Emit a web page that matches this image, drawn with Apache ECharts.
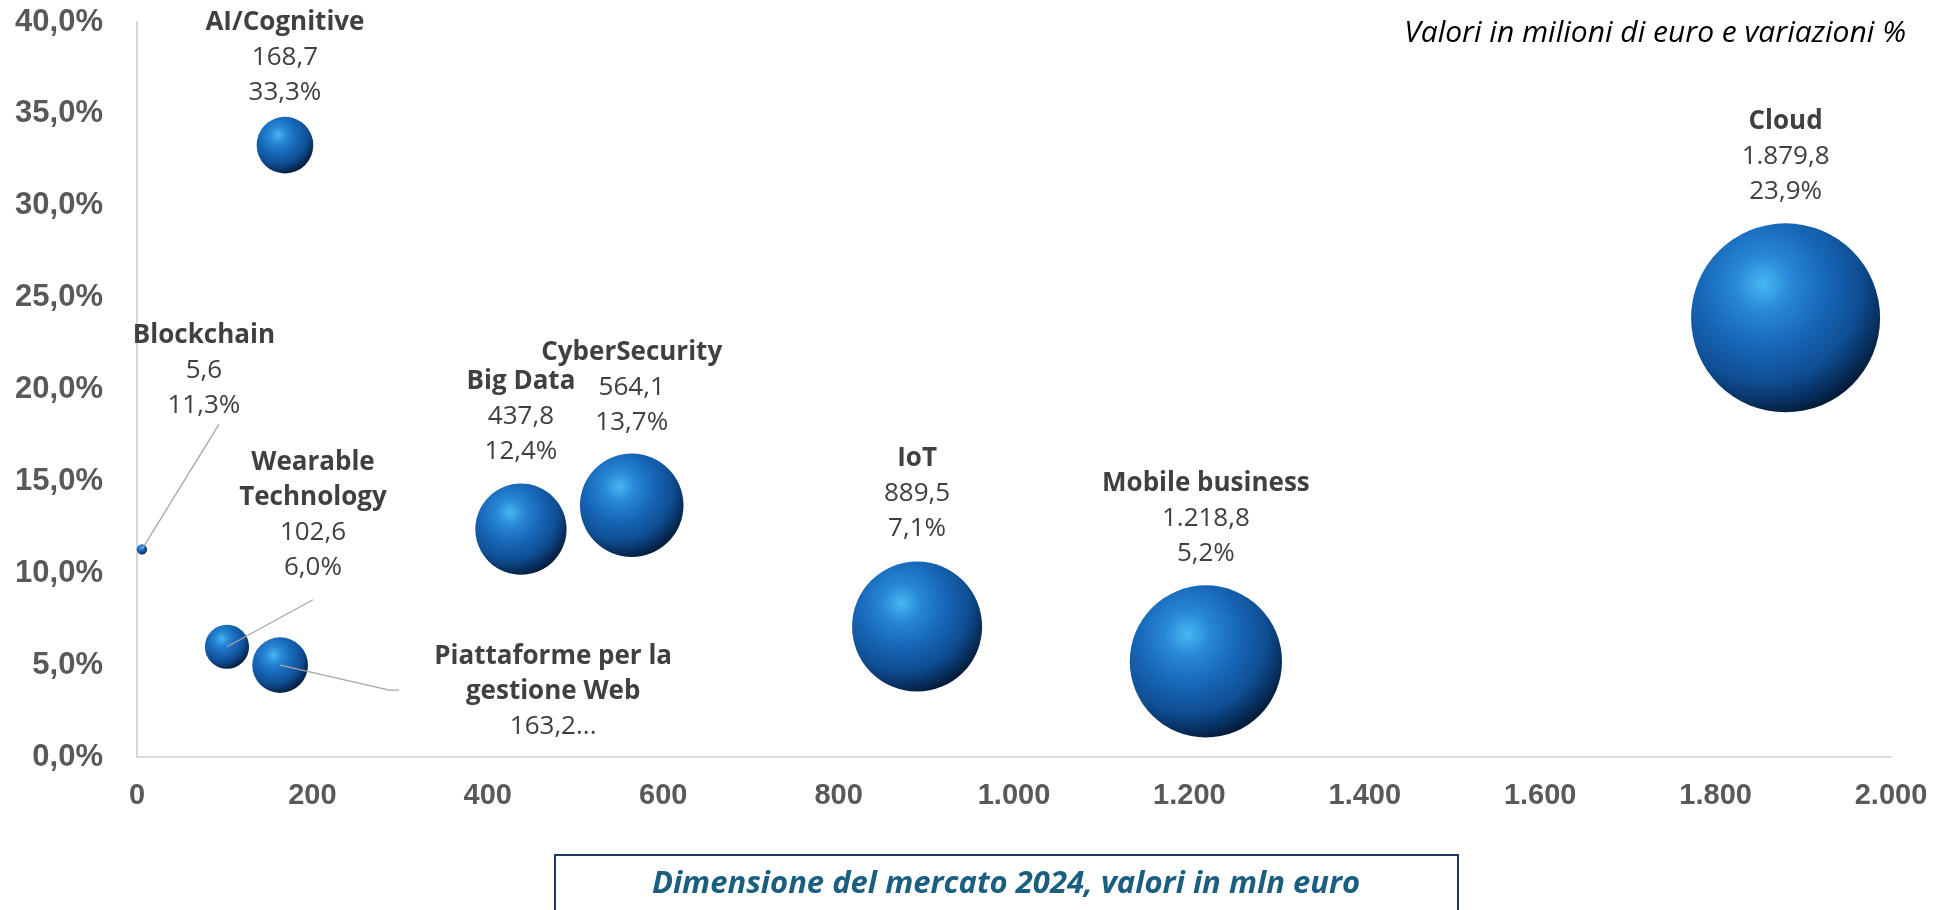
<!DOCTYPE html>
<html>
<head>
<meta charset="utf-8">
<script src="https://cdn.jsdelivr.net/npm/echarts@6/dist/echarts.min.js"></script>
<style>
  html, body { margin: 0; padding: 0; background: #fff; }
  #chart { width: 1952px; height: 910px; }
</style>
</head>
<body>
<div id="chart"></div>
<script>
// dati: dimensione del mercato 2024 (mln euro) e variazione %
const names = ['Blockchain', 'Wearable\nTechnology', 'Piattaforme per la\ngestione Web', 'AI/Cognitive', 'Big Data', 'CyberSecurity', 'IoT', 'Mobile business', 'Cloud'];
const marketSize = [5.6, 102.6, 163.2, 168.7, 437.8, 564.1, 889.5, 1218.8, 1879.8];
const growth = [11.3, 6.0, 5.0, 33.3, 12.4, 13.7, 7.1, 5.2, 23.9];

// etichette: spostamento in px rispetto al centro della bolla
const labelOffset = [[62, -179], [86, -132], [273, 26], [0, -88], [0, -113], [0, -118], [0, -133], [0, -143], [0, -161]];
// linee guida (px dal centro bolla), solo per alcune etichette
const leaders = { 0: [[77, -125]], 1: [[86, -47]], 2: [[109, 25], [119, 25]] };
// etichetta tagliata nel grafico originale
const cutLabel = { 2: true };

function fmt(v, dec) {
  let parts = v.toFixed(dec).split('.');
  parts[0] = parts[0].replace(/\B(?=(\d{3})+(?!\d))/g, '.');
  return parts.join(',');
}

const sphere = new echarts.graphic.RadialGradient(0.38, 0.32, 0.74, [
  { offset: 0, color: '#47b8f2' },
  { offset: 0.2, color: '#2888d6' },
  { offset: 0.45, color: '#1767b8' },
  { offset: 0.7, color: '#0f4e93' },
  { offset: 0.86, color: '#072f5e' },
  { offset: 1, color: '#021328' }
]);

let chart = echarts.init(document.getElementById('chart'));

let data = marketSize.map((x, i) => {
  return {
    value: [x, growth[i], names[i]],
    label: { offset: labelOffset[i] }
  };
});

chart.setOption({
  animation: false,
  grid: { left: 137, right: 61, top: 22, bottom: 153 },
  xAxis: {
    type: 'value',
    min: 0,
    max: 2000,
    interval: 200,
    splitLine: { show: false },
    axisTick: { show: false },
    axisLine: { show: true, lineStyle: { color: '#d0d0d0', width: 1.5 } },
    axisLabel: {
      color: '#595959',
      fontFamily: 'Liberation Sans',
      fontWeight: 'bold',
      fontSize: 29,
      margin: 24,
      formatter: v => fmt(v, 0)
    }
  },
  yAxis: {
    type: 'value',
    min: 0,
    max: 40,
    interval: 5,
    splitLine: { show: false },
    axisTick: { show: false },
    axisLine: { show: true, lineStyle: { color: '#c8c8c8', width: 1.5 } },
    axisLabel: {
      color: '#595959',
      fontFamily: 'Liberation Sans',
      fontWeight: 'bold',
      fontSize: 31,
      margin: 34,
      formatter: v => fmt(v, 1) + '%'
    }
  },
  series: [
    {
      type: 'scatter',
      data: data,
      symbolSize: val => Math.sqrt(val[0]) * 4.36,
      itemStyle: { color: sphere, opacity: 1 },
      label: {
        show: true,
        position: 'inside',
        align: 'center',
        verticalAlign: 'middle',
        formatter: p => {
          let i = p.dataIndex;
          let lines = names[i].split('\n').map(s => '{n|' + s + '}');
          if (cutLabel[i]) {
            lines.push('{v|' + fmt(marketSize[i], 1) + '...}');
          } else {
            lines.push('{v|' + fmt(marketSize[i], 1) + '}');
            lines.push('{v|' + fmt(growth[i], 1) + '%}');
          }
          return lines.join('\n');
        },
        rich: {
          n: { fontFamily: 'Open Sans', fontWeight: 'bold', fontSize: 26, color: '#404040', lineHeight: 35, align: 'center' },
          v: { fontFamily: 'Open Sans', fontSize: 26, color: '#404040', lineHeight: 35, align: 'center' }
        }
      },
      emphasis: { disabled: true }
    }
  ]
});

// linee guida e testi aggiuntivi
let graphics = [];
Object.keys(leaders).forEach(k => {
  let i = +k;
  let c = chart.convertToPixel({ seriesIndex: 0 }, [marketSize[i], growth[i]]);
  let pts = [c].concat(leaders[i].map(o => [c[0] + o[0], c[1] + o[1]]));
  graphics.push({
    type: 'polyline',
    z: 10,
    shape: { points: pts },
    style: { stroke: '#a6a6a6', lineWidth: 1.3, fill: null }
  });
});
graphics.push({
  type: 'text',
  right: 46,
  top: 18,
  style: { text: 'Valori in milioni di euro e variazioni %', font: 'italic 30px "Open Sans"', fill: '#000' }
});
graphics.push({
  type: 'rect',
  shape: { x: 555, y: 855, width: 903, height: 70 },
  style: { fill: '#fff', stroke: '#203864', lineWidth: 2 }
});
graphics.push({
  type: 'text',
  x: 1006,
  y: 884,
  style: {
    text: 'Dimensione del mercato 2024, valori in mln euro',
    font: 'italic bold 31px "Open Sans"',
    fill: '#1a5e80',
    align: 'center',
    verticalAlign: 'middle'
  }
});
chart.setOption({ graphic: graphics });
</script>
</body>
</html>
